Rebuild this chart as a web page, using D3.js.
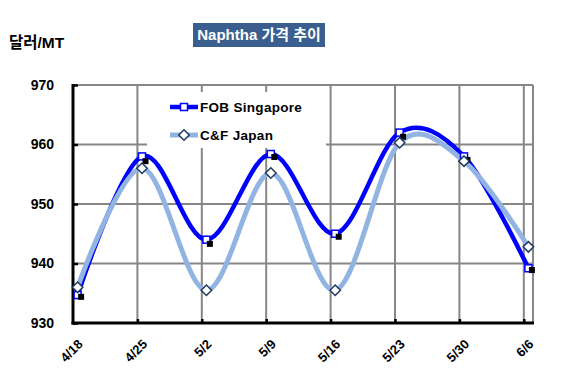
<script src='https://d3js.org/d3.v7.min.js'></script>
<style>
  body { margin: 0; background: #fff; }
  text { font-family: "Liberation Sans", Arial, "Noto Sans CJK KR", sans-serif; font-weight: bold; }
  .grid line { stroke: #868686; stroke-width: 2; }
  .fob_line { fill: none; stroke: #0000ff; stroke-width: 4.5; }
  .cf_line { fill: none; stroke: #92b4e3; stroke-width: 5; }
</style>
<svg id="chart-1" width="569" height="386"></svg>
<script>
  // data
  const dates = ["4/18", "4/25", "5/2", "5/9", "5/16", "5/23", "5/30", "6/6"]
  const fob = [934.7, 958, 944, 958.4, 945, 962, 958, 939.2]
  const cf = [936, 956, 935.5, 955.2, 935.5, 960.3, 957.2, 942.8]
  const dots = [934.4, 957.2, 943.3, 957.9, 944.5, 961.3, 957.4, 938.9]   // black marker series, no legend
  const yTicks = [930, 940, 950, 960, 970]

  var svg = d3.select("#chart-1")
  const margin = {top: 85, right: 36, bottom: 63, left: 73}
  const width = svg.attr("width") - margin.left - margin.right
  const height = svg.attr("height") - margin.top - margin.bottom

  const parse = s => { const p = s.split("/"); return new Date(2011, +p[0] - 1, +p[1]) }
  const days = dates.map(parse)
  const mid = d => d3.timeHour.offset(d, 12)

  const x = d3.scaleTime()
    .domain([days[0], d3.timeDay.offset(days[days.length - 1], 1)])
    .range([margin.left, margin.left + width])
  const y = d3.scaleLinear().domain([930, 970]).range([margin.top + height, margin.top])

  // gridlines
  const grid = svg.append("g").attr("class", "grid")
  grid.selectAll(".h").data(yTicks.slice(1)).join("line")
    .attr("x1", margin.left).attr("x2", margin.left + width)
    .attr("y1", d => y(d)).attr("y2", d => y(d))
  grid.selectAll(".v").data(days.slice(1)).join("line")
    .attr("x1", d => x(d)).attr("x2", d => x(d))
    .attr("y1", margin.top).attr("y2", margin.top + height)
  grid.append("line")
    .attr("x1", margin.left + width).attr("x2", margin.left + width)
    .attr("y1", margin.top).attr("y2", margin.top + height)

  // legend background covers the gridlines
  svg.append("rect").attr("x", 147).attr("y", 92).attr("width", 179).attr("height", 56).attr("fill", "#fff")

  // axes
  const yAxis = svg.append("g")
    .attr("transform", "translate(" + margin.left + ",0)")
    .call(d3.axisRight(y).tickValues(yTicks).tickSize(5).tickFormat(""))
  yAxis.select(".domain").remove()
  yAxis.selectAll("line").attr("stroke", "#000").attr("stroke-width", 2.5)
  svg.append("line").attr("x1", margin.left).attr("x2", margin.left)
    .attr("y1", margin.top - 1).attr("y2", margin.top + height + 1.5)
    .attr("stroke", "#000").attr("stroke-width", 3)

  const xAxis = svg.append("g")
    .attr("transform", "translate(0," + (margin.top + height) + ")")
    .call(d3.axisTop(x).tickValues(days.slice(1)).tickSize(4).tickFormat(""))
  xAxis.select(".domain").remove()
  xAxis.selectAll("line").attr("stroke", "#000").attr("stroke-width", 2.5)
  svg.append("line").attr("x1", margin.left - 1.5).attr("x2", margin.left + width + 1)
    .attr("y1", margin.top + height).attr("y2", margin.top + height)
    .attr("stroke", "#000").attr("stroke-width", 3)

  // y tick labels
  svg.selectAll(".ylab").data(yTicks).join("text")
    .attr("x", 54).attr("y", d => y(d)).attr("dy", "0.35em")
    .attr("text-anchor", "end").attr("font-size", 14).text(d => d)

  // x tick labels, rotated
  svg.selectAll(".xlab").data(days).join("text")
    .attr("text-anchor", "end").attr("font-size", 13)
    .attr("transform", (d) => "translate(" + (x(mid(d)) + 6) + "," + (margin.top + height + 22) + ") rotate(-45)")
    .text((d, i) => dates[i])

  // lines
  const line = d3.line().x((d, i) => x(mid(days[i]))).y(d => y(d)).curve(d3.curveCatmullRom.alpha(0))
  svg.append("path").datum(fob).attr("class", "fob_line").attr("d", line)
  svg.append("path").datum(cf).attr("class", "cf_line").attr("d", line)

  // markers
  svg.selectAll(".fobm").data(fob).join("rect")
    .attr("x", (d, i) => x(mid(days[i])) - 3.5).attr("y", d => y(d) - 3.5)
    .attr("width", 7).attr("height", 7)
    .attr("fill", "#fff").attr("stroke", "#0000ff").attr("stroke-width", 1.5)
  svg.selectAll(".dotm").data(dots).join("rect")
    .attr("x", (d, i) => x(mid(days[i])) + 0.5).attr("y", d => y(d) - 3)
    .attr("width", 6).attr("height", 6).attr("fill", "#000")
  const diamond = d3.symbol().type(d3.symbolDiamond2).size(70)
  svg.selectAll(".cfm").data(cf).join("path")
    .attr("transform", (d, i) => "translate(" + x(mid(days[i])) + "," + y(d) + ")")
    .attr("d", diamond)
    .attr("fill", "#fff").attr("stroke", "#1f3a5f").attr("stroke-width", 1.5)

  // legend
  const legend = [
    {name: "FOB Singapore", cls: "fob_line", ly: 107},
    {name: "C&F Japan", cls: "cf_line", ly: 135}
  ]
  legend.forEach((l, i) => {
    svg.append("line").attr("class", l.cls).attr("x1", 170).attr("x2", 198).attr("y1", l.ly).attr("y2", l.ly)
    if (i == 0) {
      svg.append("rect").attr("x", 180.5).attr("y", l.ly - 3.5).attr("width", 7).attr("height", 7)
        .attr("fill", "#fff").attr("stroke", "#0000ff").attr("stroke-width", 1.5)
    } else {
      svg.append("path").attr("transform", "translate(184," + l.ly + ")").attr("d", diamond)
        .attr("fill", "#fff").attr("stroke", "#1f3a5f").attr("stroke-width", 1.5)
    }
    svg.append("text").attr("x", 200).attr("y", l.ly).attr("dy", "0.35em")
      .attr("font-size", 13.5).attr("letter-spacing", 0.3).text(l.name)
  })

  // title and unit
  svg.append("rect").attr("x", 193).attr("y", 23).attr("width", 132).attr("height", 24).attr("fill", "#3a5f8f")
  svg.append("text").attr("x", 259).attr("y", 35).attr("dy", "0.35em").attr("text-anchor", "middle")
    .attr("font-size", 15).attr("fill", "#fff").text("Naphtha 가격 추이")
  svg.append("text").attr("x", 9).attr("y", 48).attr("font-size", 15.5).text("달러/MT")
</script>
